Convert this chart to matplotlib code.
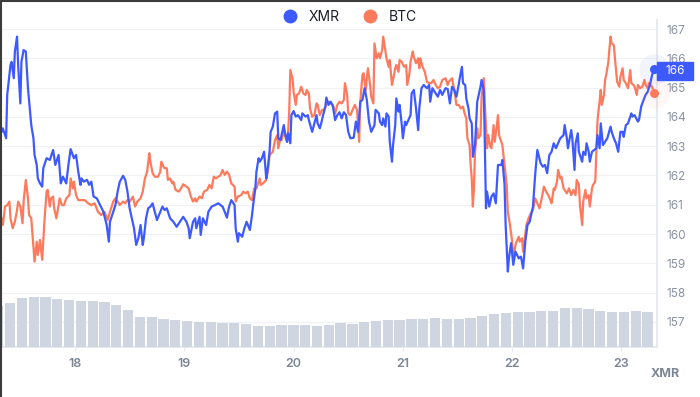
import matplotlib
matplotlib.use('Agg')
import matplotlib.pyplot as plt
import matplotlib.transforms as mtransforms
from matplotlib.lines import Line2D
from matplotlib.patches import Rectangle
import numpy as np

plt.rcParams['font.family'] = ['Inter', 'DejaVu Sans']

# price series: (day of month, price)
xmr_pts = [
    (17.31, 163.45), (17.33, 163.49), (17.34, 163.61), (17.37, 163.27), (17.38, 164.75), (17.41, 165.77), (17.42, 165.88), (17.44, 165.32), (17.45, 166.23), (17.47, 166.74),
    (17.48, 165.77), (17.50, 164.46), (17.51, 165.88), (17.53, 166.28), (17.55, 166.23), (17.57, 164.98), (17.60, 163.72), (17.62, 163.27), (17.63, 162.70), (17.65, 162.36),
    (17.66, 161.90), (17.68, 161.73), (17.70, 161.62), (17.71, 162.25), (17.73, 162.47), (17.74, 162.59), (17.77, 162.53), (17.80, 162.87), (17.82, 162.36), (17.85, 162.70),
    (17.87, 161.73), (17.89, 161.96), (17.92, 161.73), (17.94, 162.36), (17.96, 162.90), (17.99, 162.59), (18.01, 162.70), (18.03, 162.13), (18.05, 161.68), (18.06, 161.90),
    (18.08, 161.79), (18.11, 161.85), (18.13, 161.68), (18.15, 161.79), (18.17, 161.28), (18.20, 161.22), (18.23, 160.99), (18.26, 160.76), (18.29, 160.31), (18.31, 159.74),
    (18.32, 160.42), (18.35, 160.76), (18.37, 160.99), (18.39, 161.45), (18.41, 161.79), (18.44, 161.99), (18.46, 161.85), (18.48, 161.45), (18.50, 160.88), (18.52, 160.54),
    (18.54, 160.20), (18.56, 159.63), (18.58, 159.86), (18.60, 160.31), (18.62, 159.63), (18.63, 159.86), (18.65, 160.54), (18.67, 160.88), (18.69, 160.94), (18.71, 161.05),
    (18.73, 160.76), (18.75, 160.48), (18.78, 160.76), (18.80, 160.94), (18.82, 160.82), (18.84, 160.88), (18.87, 160.54), (18.90, 160.42), (18.93, 160.25), (18.96, 160.42),
    (18.99, 160.59), (19.02, 160.42), (19.04, 160.20), (19.05, 159.86), (19.08, 160.42), (19.10, 160.54), (19.11, 160.20), (19.14, 160.59), (19.15, 159.97), (19.17, 160.54),
    (19.20, 160.31), (19.22, 160.76), (19.25, 160.94), (19.28, 160.99), (19.31, 161.05), (19.35, 160.94), (19.37, 160.76), (19.39, 160.56), (19.41, 160.94), (19.43, 161.16),
    (19.46, 160.99), (19.47, 160.20), (19.49, 159.74), (19.50, 160.03), (19.53, 159.91), (19.55, 160.20), (19.57, 160.42), (19.60, 160.14), (19.62, 160.65), (19.63, 160.99),
    (19.65, 161.56), (19.66, 162.13), (19.68, 162.59), (19.69, 162.47), (19.71, 162.59), (19.73, 162.81), (19.75, 161.90), (19.76, 162.13), (19.78, 162.81), (19.79, 163.49),
    (19.81, 163.67), (19.83, 164.12), (19.85, 164.18), (19.86, 163.27), (19.88, 163.21), (19.89, 163.38), (19.91, 163.72), (19.92, 163.49), (19.94, 163.15), (19.95, 163.44),
    (19.97, 163.10), (19.98, 164.06), (20.00, 164.20), (20.02, 164.01), (20.04, 164.06), (20.07, 163.89), (20.08, 164.12), (20.11, 164.01), (20.13, 164.06), (20.14, 163.89),
    (20.17, 163.49), (20.19, 163.78), (20.21, 164.06), (20.22, 163.78), (20.24, 163.61), (20.26, 163.89), (20.27, 164.06), (20.29, 164.35), (20.30, 164.66), (20.32, 164.41),
    (20.34, 164.52), (20.36, 164.35), (20.38, 163.89), (20.40, 164.06), (20.42, 164.16), (20.44, 163.95), (20.46, 164.16), (20.48, 164.06), (20.50, 163.49), (20.52, 163.27),
    (20.55, 163.29), (20.57, 163.84), (20.59, 163.49), (20.61, 164.52), (20.63, 164.58), (20.65, 164.98), (20.67, 164.58), (20.69, 163.84), (20.71, 163.49), (20.74, 163.72),
    (20.75, 164.24), (20.78, 164.12), (20.79, 163.84), (20.81, 163.72), (20.82, 163.95), (20.84, 163.67), (20.85, 164.12), (20.87, 164.01), (20.88, 163.15), (20.90, 162.47),
    (20.91, 163.04), (20.93, 163.72), (20.94, 164.63), (20.96, 164.18), (20.97, 164.41), (20.99, 163.72), (21.00, 163.27), (21.02, 163.84), (21.03, 163.72), (21.05, 163.89),
    (21.07, 164.06), (21.08, 164.80), (21.10, 164.92), (21.12, 164.29), (21.14, 163.55), (21.15, 164.29), (21.17, 164.98), (21.19, 165.09), (21.22, 164.98), (21.24, 165.09),
    (21.25, 164.52), (21.27, 164.98), (21.29, 164.86), (21.32, 164.69), (21.34, 164.92), (21.36, 164.75), (21.39, 164.98), (21.41, 164.95), (21.43, 164.46), (21.45, 165.03),
    (21.47, 164.92), (21.49, 164.69), (21.51, 165.09), (21.52, 165.32), (21.54, 165.71), (21.55, 165.15), (21.57, 165.09), (21.58, 164.63), (21.60, 164.29), (21.61, 163.95),
    (21.63, 163.78), (21.64, 162.64), (21.66, 163.04), (21.68, 164.52), (21.69, 164.69), (21.71, 165.03), (21.72, 165.26), (21.74, 164.92), (21.75, 163.04), (21.76, 160.88),
    (21.77, 161.45), (21.79, 160.94), (21.81, 161.28), (21.83, 161.39), (21.85, 161.05), (21.87, 162.36), (21.90, 162.36), (21.91, 162.53), (21.93, 161.68), (21.94, 160.31),
    (21.96, 158.72), (21.97, 159.17), (21.99, 159.69), (22.01, 158.95), (22.03, 159.40), (22.06, 159.17), (22.08, 159.23), (22.10, 158.83), (22.12, 159.74), (22.14, 160.31),
    (22.16, 160.42), (22.19, 160.94), (22.21, 162.02), (22.23, 162.87), (22.26, 162.42), (22.28, 162.30), (22.30, 162.36), (22.32, 162.08), (22.34, 162.70), (22.36, 162.81),
    (22.38, 163.10), (22.40, 162.93), (22.42, 163.10), (22.44, 163.27), (22.47, 163.38), (22.48, 163.72), (22.50, 163.27), (22.51, 162.93), (22.54, 163.55), (22.55, 163.27),
    (22.57, 162.19), (22.58, 163.10), (22.60, 163.44), (22.61, 162.81), (22.64, 162.47), (22.65, 162.81), (22.67, 162.70), (22.68, 163.10), (22.70, 162.81), (22.71, 162.47),
    (22.73, 162.81), (22.75, 162.87), (22.77, 162.93), (22.78, 163.38), (22.80, 162.93), (22.81, 163.78), (22.83, 163.04), (22.85, 163.15), (22.87, 163.27), (22.90, 163.67),
    (22.91, 163.49), (22.93, 163.27), (22.95, 163.10), (22.97, 162.81), (22.99, 163.49), (23.01, 163.49), (23.02, 163.32), (23.04, 163.72), (23.06, 163.78), (23.09, 164.12),
    (23.10, 164.01), (23.12, 164.06), (23.15, 163.84), (23.16, 163.89), (23.18, 164.35), (23.19, 164.46), (23.22, 164.75), (23.24, 164.86), (23.26, 165.09), (23.28, 165.43),
    (23.30, 165.62),
]

btc_pts = [
    (17.31, 160.42), (17.33, 160.54), (17.34, 160.31), (17.36, 160.94), (17.38, 160.99), (17.40, 161.11), (17.41, 160.54), (17.43, 160.20), (17.45, 160.42), (17.47, 160.82),
    (17.48, 161.11), (17.50, 160.94), (17.52, 160.37), (17.53, 161.11), (17.55, 161.85), (17.57, 161.22), (17.58, 160.65), (17.60, 160.54), (17.62, 159.52), (17.63, 159.06),
    (17.65, 159.74), (17.66, 159.29), (17.68, 159.80), (17.70, 159.12), (17.72, 160.42), (17.74, 161.45), (17.75, 161.51), (17.77, 160.94), (17.78, 161.22), (17.80, 161.28),
    (17.81, 160.88), (17.83, 160.54), (17.85, 160.99), (17.86, 161.22), (17.88, 160.99), (17.90, 160.99), (17.92, 161.22), (17.95, 161.33), (17.96, 161.90), (17.98, 161.56),
    (17.99, 161.79), (18.01, 161.33), (18.03, 161.16), (18.06, 161.16), (18.09, 161.16), (18.12, 161.05), (18.15, 160.99), (18.18, 161.05), (18.21, 160.76), (18.24, 160.65),
    (18.27, 160.76), (18.30, 160.48), (18.32, 160.76), (18.35, 161.11), (18.37, 161.22), (18.39, 161.11), (18.41, 160.99), (18.44, 161.11), (18.46, 161.05), (18.48, 161.16),
    (18.50, 161.11), (18.53, 161.28), (18.55, 160.94), (18.57, 161.11), (18.60, 161.22), (18.62, 161.45), (18.64, 161.90), (18.66, 162.13), (18.68, 162.76), (18.69, 162.47),
    (18.71, 162.08), (18.73, 161.96), (18.76, 161.96), (18.78, 162.13), (18.79, 162.47), (18.81, 162.30), (18.82, 162.25), (18.84, 162.25), (18.85, 161.85), (18.87, 161.90),
    (18.89, 161.73), (18.90, 161.79), (18.92, 161.51), (18.95, 161.45), (18.97, 161.56), (18.99, 161.70), (19.02, 161.62), (19.04, 161.56), (19.06, 161.28), (19.08, 161.11),
    (19.10, 161.22), (19.11, 161.11), (19.14, 161.28), (19.16, 161.22), (19.18, 161.45), (19.21, 161.51), (19.23, 161.68), (19.25, 161.56), (19.27, 161.96), (19.29, 161.90),
    (19.31, 161.96), (19.33, 162.00), (19.35, 162.19), (19.37, 162.02), (19.39, 162.13), (19.41, 162.02), (19.43, 161.73), (19.46, 161.62), (19.47, 161.11), (19.49, 161.28),
    (19.52, 161.33), (19.54, 161.45), (19.56, 161.39), (19.58, 161.45), (19.60, 161.22), (19.62, 161.16), (19.64, 161.56), (19.66, 161.56), (19.69, 161.90), (19.70, 161.68),
    (19.72, 161.73), (19.75, 161.85), (19.77, 162.30), (19.78, 162.70), (19.81, 162.81), (19.83, 163.21), (19.85, 163.38), (19.86, 162.93), (19.88, 163.27), (19.89, 163.21),
    (19.91, 163.49), (19.92, 163.38), (19.94, 163.15), (19.95, 163.49), (19.96, 164.18), (19.97, 165.60), (19.99, 165.32), (20.00, 164.86), (20.02, 164.41), (20.03, 164.75),
    (20.05, 164.80), (20.07, 165.03), (20.09, 164.80), (20.11, 164.75), (20.12, 164.92), (20.14, 164.80), (20.15, 164.29), (20.17, 164.01), (20.19, 164.06), (20.21, 164.46),
    (20.22, 164.41), (20.24, 164.06), (20.26, 164.24), (20.28, 164.24), (20.30, 164.41), (20.32, 164.52), (20.33, 164.50), (20.36, 164.41), (20.38, 164.12), (20.40, 164.41),
    (20.42, 164.52), (20.44, 164.46), (20.46, 164.58), (20.47, 165.15), (20.49, 164.75), (20.50, 164.12), (20.52, 164.06), (20.54, 164.24), (20.56, 164.41), (20.58, 164.24),
    (20.59, 163.72), (20.60, 163.15), (20.61, 164.52), (20.63, 165.43), (20.64, 165.49), (20.66, 164.92), (20.67, 165.32), (20.68, 165.66), (20.70, 165.09), (20.71, 164.69),
    (20.73, 164.46), (20.74, 166.51), (20.76, 166.00), (20.78, 166.17), (20.79, 166.00), (20.81, 166.28), (20.82, 166.74), (20.84, 166.23), (20.85, 166.00), (20.87, 165.71),
    (20.88, 165.94), (20.90, 165.09), (20.91, 165.26), (20.93, 165.66), (20.94, 165.77), (20.96, 165.54), (20.97, 165.94), (20.99, 165.88), (21.01, 165.71), (21.03, 165.77),
    (21.04, 165.09), (21.06, 165.49), (21.07, 165.88), (21.09, 166.23), (21.10, 166.05), (21.12, 165.83), (21.14, 166.00), (21.15, 165.66), (21.16, 166.00), (21.18, 165.71),
    (21.20, 165.54), (21.22, 165.20), (21.24, 165.15), (21.26, 165.15), (21.28, 165.26), (21.30, 165.09), (21.32, 164.98), (21.34, 165.03), (21.36, 165.26), (21.39, 165.32),
    (21.41, 165.09), (21.42, 165.20), (21.45, 165.32), (21.47, 164.92), (21.49, 164.41), (21.51, 164.41), (21.53, 164.29), (21.55, 164.35), (21.56, 164.18), (21.58, 163.95),
    (21.59, 163.27), (21.61, 163.04), (21.62, 162.36), (21.63, 161.90), (21.64, 160.94), (21.65, 161.56), (21.66, 162.81), (21.68, 163.61), (21.69, 163.27), (21.71, 163.38),
    (21.72, 164.69), (21.74, 165.32), (21.75, 164.41), (21.77, 162.93), (21.78, 163.38), (21.80, 162.98), (21.81, 162.93), (21.83, 163.72), (21.84, 163.15), (21.86, 163.72),
    (21.87, 164.06), (21.88, 163.38), (21.89, 163.27), (21.91, 163.04), (21.93, 162.36), (21.95, 161.68), (21.96, 160.76), (21.98, 160.31), (22.00, 159.74), (22.01, 159.17),
    (22.03, 159.63), (22.04, 159.74), (22.06, 159.91), (22.07, 159.74), (22.09, 159.86), (22.10, 159.40), (22.13, 160.31), (22.15, 160.54), (22.17, 160.71), (22.19, 160.82),
    (22.21, 161.22), (22.23, 161.05), (22.25, 160.88), (22.27, 161.22), (22.29, 161.62), (22.31, 161.45), (22.33, 161.33), (22.35, 161.16), (22.36, 161.05), (22.38, 161.56),
    (22.39, 161.51), (22.41, 161.79), (22.42, 162.19), (22.44, 161.90), (22.45, 161.96), (22.47, 161.56), (22.49, 161.45), (22.50, 161.39), (22.52, 161.56), (22.54, 161.33),
    (22.56, 161.51), (22.58, 161.33), (22.59, 161.85), (22.61, 161.68), (22.62, 160.99), (22.64, 160.31), (22.65, 161.11), (22.67, 161.51), (22.68, 161.22), (22.70, 161.33),
    (22.71, 160.94), (22.73, 161.56), (22.74, 161.68), (22.76, 161.79), (22.77, 162.81), (22.78, 163.84), (22.79, 164.24), (22.80, 164.52), (22.81, 164.92), (22.82, 164.41),
    (22.84, 164.75), (22.85, 165.26), (22.86, 165.43), (22.88, 165.88), (22.89, 166.34), (22.90, 166.74), (22.91, 166.51), (22.93, 166.45), (22.94, 166.00), (22.95, 165.60),
    (22.96, 165.20), (22.98, 165.03), (22.99, 165.37), (23.01, 165.66), (23.02, 165.26), (23.04, 165.15), (23.06, 164.98), (23.08, 165.60), (23.09, 165.15), (23.11, 165.09),
    (23.12, 165.03), (23.14, 164.75), (23.15, 165.09), (23.17, 164.98), (23.19, 165.03), (23.21, 165.26), (23.22, 165.09), (23.24, 164.98), (23.25, 165.15), (23.28, 165.03),
    (23.30, 164.80),
]

# volume bars (relative units), one bar every ~2.6 h starting at day 17.298
vol_start = 17.298
vol_step = 0.108
volume = [41, 44, 49, 50.3, 49.5, 48.3, 47, 46.3, 46, 44.7, 42, 37, 30, 29.7, 28.3, 27.3,
          26, 25, 24.7, 24, 24.3, 22.8, 21.3, 21.3, 21.7, 22.3, 22.3, 21.3, 22, 24, 23.3,
          25, 25.7, 26.7, 27, 27.7, 28, 29, 28.3, 28, 29.3, 31.3, 33, 34, 35, 35, 36.3,
          36.3, 39, 39, 38, 36, 35, 35, 35.7, 34.7]

day_ticks = [18, 19, 20, 21, 22, 23]
day_labels = ['18', '19', '20', '21', '22', '23']
price_ticks = list(range(157, 168))

xmr_color = '#3d5afe'
btc_color = '#fd7a5c'
grey_txt = '#8a92a3'

xmr_t, xmr_v = zip(*xmr_pts)
btc_t, btc_v = zip(*btc_pts)
vol_t = vol_start + vol_step * np.arange(len(volume))

fig = plt.figure(figsize=(7, 3.97), dpi=100)
pos = [0.0, 0.126, 0.9386, 0.8236]

ax = fig.add_axes(pos)
ax_vol = fig.add_axes(pos, sharex=ax)
ax_top = fig.add_axes(pos, sharex=ax, sharey=ax)

ax.set_xlim(17.314, 23.325)
ax.set_ylim(156.147, 167.307)

# grid + axes styling
ax.grid(axis='y', color='#eff1f4', lw=0.8)
ax.grid(axis='x', visible=False)
ax.set_axisbelow(True)
for s in ['top', 'left']:
    ax.spines[s].set_visible(False)
for s in ['right', 'bottom']:
    ax.spines[s].set_color('#e7e9ee')
    ax.spines[s].set_linewidth(1.5)

ax.yaxis.tick_right()
ax.set_yticks(price_ticks)
ax.set_yticklabels([str(p) for p in price_ticks])
ax.tick_params(axis='y', length=0, pad=7, labelsize=8.5, labelcolor=grey_txt)
ax.set_xticks(day_ticks)
ax.set_xticklabels(day_labels, fontweight='semibold')
ax.tick_params(axis='x', length=3, color='#e7e9ee', pad=5, labelsize=9, labelcolor='#7d8696')

# volume
ax_vol.bar(vol_t, volume, width=vol_step * 0.87, color='#cfd6e2', linewidth=0)
ax_vol.set_ylim(0, max(volume) * 6.5)
ax_vol.axis('off')
ax_vol.patch.set_visible(False)

# price lines
ax_top.axis('off')
ax_top.patch.set_visible(False)
ax_top.plot(btc_t, btc_v, color=btc_color, lw=1.6, solid_joinstyle='round')
ax_top.plot(xmr_t, xmr_v, color=xmr_color, lw=1.6, solid_joinstyle='round')

for t, v, c in [(btc_t[-1], btc_v[-1], btc_color), (xmr_t[-1], xmr_v[-1], xmr_color)]:
    ax_top.plot(t, v, 'o', ms=22, color=c, alpha=0.06, mec='none', clip_on=False)
    ax_top.plot(t, v, 'o', ms=6.5, color=c, mec='none', clip_on=False)

# current value tag
tag_y = xmr_v[-1] - 0.06
trans = mtransforms.blended_transform_factory(ax_top.transAxes, ax_top.transData)
ax_top.add_patch(Rectangle((1.0, tag_y - 0.3), 0.055, 0.6, transform=trans,
                           color=xmr_color, clip_on=False, zorder=5))
ax_top.text(1.028, tag_y, f'{xmr_v[-1]:.0f}', transform=trans, ha='center', va='center',
            color='white', fontsize=8.5, zorder=6)

# legend
handles = [Line2D([], [], marker='o', ls='', color=xmr_color, ms=9, label='XMR'),
           Line2D([], [], marker='o', ls='', color=btc_color, ms=9, label='BTC')]
fig.legend(handles=handles, loc='center', bbox_to_anchor=(0.495, 0.957), ncol=2, frameon=False,
           fontsize=10, handletextpad=0.35, columnspacing=1.2, labelcolor='#1b1f2a')

fig.text(0.95, 1 - 374 / 397, 'XMR', ha='center', va='center', fontsize=9,
         fontweight='bold', color='#7d8696')

# screenshot frame at top and left edge
fig.add_artist(Line2D([0, 1], [0.998, 0.998], transform=fig.transFigure, color='#3c3c3c', lw=1.5))
fig.add_artist(Line2D([0.001, 0.001], [0, 1], transform=fig.transFigure, color='#3c3c3c', lw=1.5))

fig.savefig('out.png', dpi=100)
